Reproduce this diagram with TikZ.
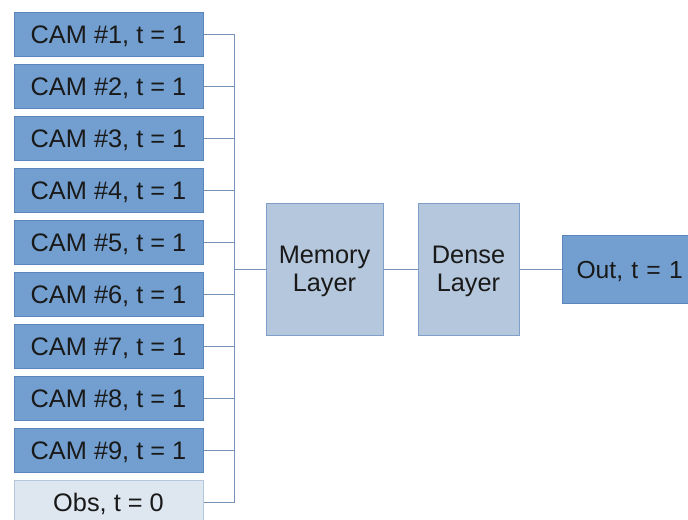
\documentclass[tikz,border=0pt]{standalone}
\usepackage{fontspec}
\setmainfont{Liberation Sans}
\usetikzlibrary{positioning}
\definecolor{camfill}{HTML}{729FCF}
\definecolor{camedge}{HTML}{5B85BD}
\definecolor{layerfill}{HTML}{B4C7DC}
\definecolor{layeredge}{HTML}{7F9FC8}
\definecolor{obsfill}{HTML}{DEE6EF}
\definecolor{obsedge}{HTML}{B4C7DC}
\definecolor{wire}{HTML}{7891B8}

\begin{document}
\begin{tikzpicture}[
    x=0.75pt, y=-0.75pt,
    font=\fontsize{19}{21}\selectfont,
    node distance=5.25pt and 5.25pt,
    camblock/.style={rectangle, draw=camedge, fill=camfill, line width=0.75pt,
                     minimum width=141.75pt, minimum height=33pt,
                     inner sep=0pt, text height=13.6pt, text depth=0pt,
                     text=black!90},
    obsblock/.style={camblock, draw=obsedge, fill=obsfill},
    layerblock/.style={rectangle, draw=layeredge, fill=layerfill, line width=0.75pt,
                       minimum height=99pt, align=center, inner sep=0pt,
                       text depth=0pt, text=black!90},
    outblock/.style={rectangle, draw=camedge, fill=camfill, line width=0.75pt,
                     minimum height=51pt, inner xsep=10.5pt, inner ysep=0pt,
                     text height=13.6pt, text depth=0pt,
                     text width=100pt, align=left, text=black!90},
    line/.style={draw=wire, line width=0.75pt}
]
  \useasboundingbox (0,0) rectangle (688,519);

  % camera inputs
  \node[camblock] (cam1) at (108.5,34) {CAM \#1, t = 1};
  \node[camblock, below=of cam1] (cam2) {CAM \#2, t = 1};
  \node[camblock, below=of cam2] (cam3) {CAM \#3, t = 1};
  \node[camblock, below=of cam3] (cam4) {CAM \#4, t = 1};
  \node[camblock, below=of cam4] (cam5) {CAM \#5, t = 1};
  \node[camblock, below=of cam5] (cam6) {CAM \#6, t = 1};
  \node[camblock, below=of cam6] (cam7) {CAM \#7, t = 1};
  \node[camblock, below=of cam7] (cam8) {CAM \#8, t = 1};
  \node[camblock, below=of cam8] (cam9) {CAM \#9, t = 1};
  \node[obsblock, below=of cam9] (obs) {Obs, t = 0};

  % network
  \node[layerblock, minimum width=87.75pt] (mem) at (324.5,269) {Memory\\Layer};
  \node[layerblock, minimum width=75.75pt] (dense) at (468.5,269) {Dense\\Layer};
  \node[outblock, anchor=west, font=\fontsize{18.5}{21}\selectfont] (out) at (562,269) {Out, t = 1};

  \coordinate (bus) at (234,269);

  \draw[line] (cam1.east) -| (bus);
  \draw[line] (cam2.east) -| (bus);
  \draw[line] (cam3.east) -| (bus);
  \draw[line] (cam4.east) -| (bus);
  \draw[line] (cam5.east) -| (bus);
  \draw[line] (cam6.east) -| (bus);
  \draw[line] (cam7.east) -| (bus);
  \draw[line] (cam8.east) -| (bus);
  \draw[line] (cam9.east) -| (bus);
  \draw[line] (obs.east) -| (bus);
  \draw[line] (bus) -- (mem);
  \draw[line] (mem) -- (dense);
  \draw[line] (dense) -- (out);
\end{tikzpicture}
\end{document}
